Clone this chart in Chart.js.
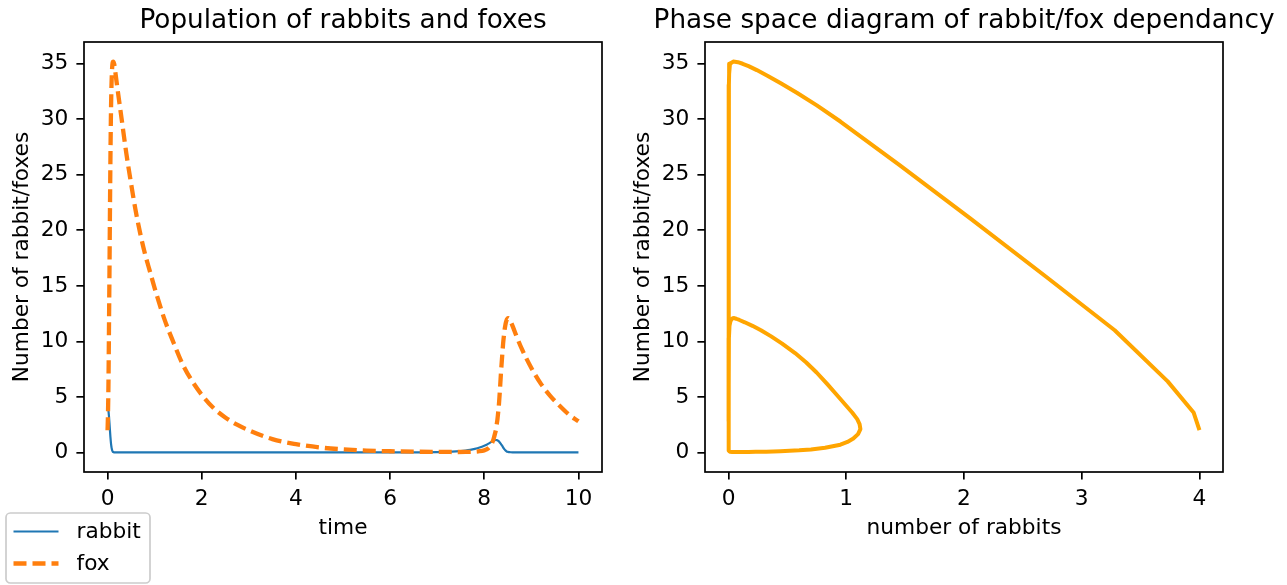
<!DOCTYPE html>
<html>
<head>
<meta charset="utf-8">
<script src="https://cdn.jsdelivr.net/npm/chart.js@4/dist/chart.umd.min.js"></script>
<style>
  html, body { margin: 0; padding: 0; background: #fff; width: 1287px; height: 585px; overflow: hidden; }
  canvas { position: absolute; top: 0; }
  #popChart { left: 0; }
  #phaseChart { left: 620px; }
</style>
</head>
<body>
<canvas id="popChart" width="620" height="585"></canvas>
<canvas id="phaseChart" width="667" height="585"></canvas>
<script>
// Simulation output: time, rabbit population, fox population
const time = [0, 0.01, 0.02, 0.03, 0.04, 0.05, 0.06, 0.07, 0.075, 0.08, 0.085, 0.09, 0.095,
  0.10, 0.105, 0.11, 0.12,
  0.14, 0.17, 0.2, 0.3, 0.4, 0.5, 0.6, 0.7, 0.8, 0.9, 1.0,
  1.2, 1.4, 1.6, 1.8, 2.0, 2.25, 2.5, 2.75, 3.0,
  3.5, 4.0, 4.5, 5.0, 5.5, 6.0, 6.5, 7.0,
  7.2, 7.4, 7.6, 7.7, 7.8, 7.9, 8.0,
  8.05, 8.1, 8.15, 8.175, 8.2, 8.225, 8.25, 8.265,
  8.28, 8.295, 8.31, 8.325, 8.34, 8.355, 8.37, 8.385, 8.40, 8.415,
  8.43, 8.445, 8.46, 8.475, 8.49, 8.505, 8.52, 8.54, 8.56,
  8.6, 8.7, 8.8,
  9.0, 9.2, 9.4, 9.6, 9.8, 10.0];

const rabbit = [4.00, 3.95, 3.73, 3.28, 2.70, 2.05, 1.45, 0.95, 0.75, 0.58, 0.44, 0.33, 0.24,
  0.17, 0.12, 0.08, 0.04,
  0.012, 0.005, 0.003, 0.002, 0.001, 0.001, 0.001, 0.001, 0.001, 0.001, 0.001,
  0.001, 0.001, 0.001, 0.001, 0.001, 0.001, 0.001, 0.001, 0.001,
  0.001, 0.001, 0.001, 0.002, 0.003, 0.006, 0.013, 0.03,
  0.05, 0.09, 0.17, 0.23, 0.32, 0.44, 0.60,
  0.70, 0.82, 0.95, 1.01, 1.06, 1.10, 1.12, 1.113,
  1.093, 1.050, 0.996, 0.922, 0.839, 0.748, 0.660, 0.565, 0.455, 0.362,
  0.275, 0.203, 0.138, 0.092, 0.065, 0.048, 0.035, 0.024, 0.016,
  0.008, 0.003, 0.001,
  0.0005, 0.0003, 0.0002, 0.0002, 0.0001, 0.0001];

const fox = [2.0, 3.6, 6.4, 11.0, 15.8, 21.1, 25.9, 29.8, 31.25, 32.39, 33.27, 33.93, 34.43,
  34.79, 35.0, 35.14, 35.2,
  35.0, 34.1, 33.1, 30.0, 26.9, 24.2, 21.7, 19.6, 17.8, 16.3, 14.8,
  12.1, 9.9, 7.9, 6.4, 5.2, 4.0, 3.15, 2.5, 2.0,
  1.2, 0.75, 0.45, 0.28, 0.17, 0.11, 0.07, 0.05,
  0.045, 0.042, 0.045, 0.055, 0.07, 0.11, 0.19,
  0.27, 0.42, 0.70, 0.95, 1.25, 1.65, 2.1, 2.55,
  3.0, 3.6, 4.25, 5.15, 6.15, 7.2, 8.1, 8.95, 9.8, 10.45,
  11.0, 11.4, 11.72, 11.93, 12.04, 12.1, 12.08, 11.98, 11.8,
  11.4, 10.3, 9.3,
  7.6, 6.2, 5.1, 4.2, 3.4, 2.8];

// Tick positions
const timeTicks = [0, 2, 4, 6, 8, 10];
const rabbitTicks = [0, 1, 2, 3, 4];
const countTicks = [0, 5, 10, 15, 20, 25, 30, 35];

// Series labels
const seriesLabels = ['rabbit', 'fox'];

const FONT = '"DejaVu Sans", "Liberation Sans", sans-serif';
const LABEL_SIZE = 21.7;
const TITLE_SIZE = 26.3;
const SPINE = 1.7;

const pts = (xs, ys) => xs.map((x, i) => ({ x: x, y: ys[i] }));

function axis(ticks, min, max, isX, fitSize, pad) {
  return {
    type: 'linear',
    min: min,
    max: max,
    afterBuildTicks: s => { s.ticks = ticks.map(v => ({ value: v })); },
    afterFit: s => { if (isX) s.height = fitSize; else s.width = fitSize; },
    grid: { drawOnChartArea: false, drawTicks: true, tickLength: 7.6, color: '#000', lineWidth: SPINE },
    border: { display: false },
    ticks: {
      color: '#000',
      font: { family: FONT, size: LABEL_SIZE },
      padding: pad,
      autoSkip: false,
      maxRotation: 0,
      callback: v => String(v)
    }
  };
}

// Axes frame, titles, axis labels and optional legend
const decor = {
  id: 'decor',
  afterDraw(chart, args, o) {
    const ctx = chart.ctx;
    const a = chart.chartArea;
    const cx = (a.left + a.right) / 2;
    ctx.save();
    ctx.strokeStyle = '#000';
    ctx.lineWidth = SPINE;
    ctx.strokeRect(a.left, a.top, a.right - a.left, a.bottom - a.top);

    ctx.fillStyle = '#000';
    ctx.textAlign = 'center';
    ctx.textBaseline = 'alphabetic';
    ctx.font = TITLE_SIZE + 'px ' + FONT;
    ctx.fillText(o.title, cx, o.titleY);
    ctx.font = LABEL_SIZE + 'px ' + FONT;
    ctx.fillText(o.xLabel, cx, o.xLabelY);
    ctx.save();
    ctx.translate(o.yLabelX, (a.top + a.bottom) / 2);
    ctx.rotate(-Math.PI / 2);
    ctx.fillText(o.yLabel, 0, 0);
    ctx.restore();

    if (o.legend) {
      const L = o.legend;
      ctx.beginPath();
      ctx.roundRect(L.x, L.y, L.w, L.h, 4.3);
      ctx.fillStyle = 'rgba(255,255,255,0.8)';
      ctx.fill();
      ctx.strokeStyle = '#cccccc';
      ctx.lineWidth = 1.7;
      ctx.stroke();
      const sets = chart.data.datasets;
      seriesLabels.forEach((lab, i) => {
        const ds = sets.find(d => d.label === lab);
        const y = L.rowY[i];
        ctx.beginPath();
        ctx.setLineDash(ds.borderDash || []);
        ctx.strokeStyle = ds.borderColor;
        ctx.lineWidth = ds.borderWidth;
        ctx.moveTo(L.x + 7.5, y);
        ctx.lineTo(L.x + 52.5, y);
        ctx.stroke();
        ctx.setLineDash([]);
        ctx.fillStyle = '#000';
        ctx.textAlign = 'left';
        ctx.font = LABEL_SIZE + 'px ' + FONT;
        ctx.fillText(lab, L.x + 70.5, y + 6.8);
      });
    }
    ctx.restore();
  }
};

new Chart(document.getElementById('popChart'), {
  type: 'line',
  data: {
    datasets: [
      { label: seriesLabels[0], data: pts(time, rabbit), borderColor: '#1f77b4', borderWidth: 2.2,
        pointRadius: 0, cubicInterpolationMode: 'monotone', order: 1 },
      { label: seriesLabels[1], data: pts(time, fox), borderColor: '#ff7f0e', borderWidth: 4.3,
        borderDash: [13, 6], pointRadius: 0, cubicInterpolationMode: 'monotone', order: 0 }
    ]
  },
  options: {
    responsive: false,
    animation: false,
    devicePixelRatio: 1,
    parsing: false,
    layout: { padding: { top: 42, right: 18, bottom: 0, left: 0 } },
    scales: {
      x: axis(timeTicks, -0.5, 10.5, true, 113, 7),
      y: axis(countTicks, -1.76, 36.96, false, 84, 8)
    },
    plugins: {
      legend: { display: false },
      tooltip: { enabled: false },
      decor: {
        title: 'Population of rabbits and foxes',
        titleY: 28,
        xLabel: 'time',
        xLabelY: 534,
        yLabel: 'Number of rabbit/foxes',
        yLabelX: 28,
        legend: { x: 6, y: 513, w: 144, h: 70, rowY: [531.5, 563.5] }
      }
    }
  },
  plugins: [decor]
});

new Chart(document.getElementById('phaseChart'), {
  type: 'line',
  data: {
    datasets: [
      { label: 'phase', data: pts(rabbit, fox), borderColor: '#ffa500', borderWidth: 4,
        pointRadius: 0, tension: 0, borderJoinStyle: 'round' }
    ]
  },
  options: {
    responsive: false,
    animation: false,
    devicePixelRatio: 1,
    parsing: false,
    layout: { padding: { top: 42, right: 64, bottom: 0, left: 0 } },
    scales: {
      x: axis(rabbitTicks, -0.2, 4.2, true, 113, 7),
      y: axis(countTicks, -1.76, 36.96, false, 85, 8)
    },
    plugins: {
      legend: { display: false },
      tooltip: { enabled: false },
      decor: {
        title: 'Phase space diagram of rabbit/fox dependancy',
        titleY: 28,
        xLabel: 'number of rabbits',
        xLabelY: 534,
        yLabel: 'Number of rabbit/foxes',
        yLabelX: 29
      }
    }
  },
  plugins: [decor]
});
</script>
</body>
</html>
